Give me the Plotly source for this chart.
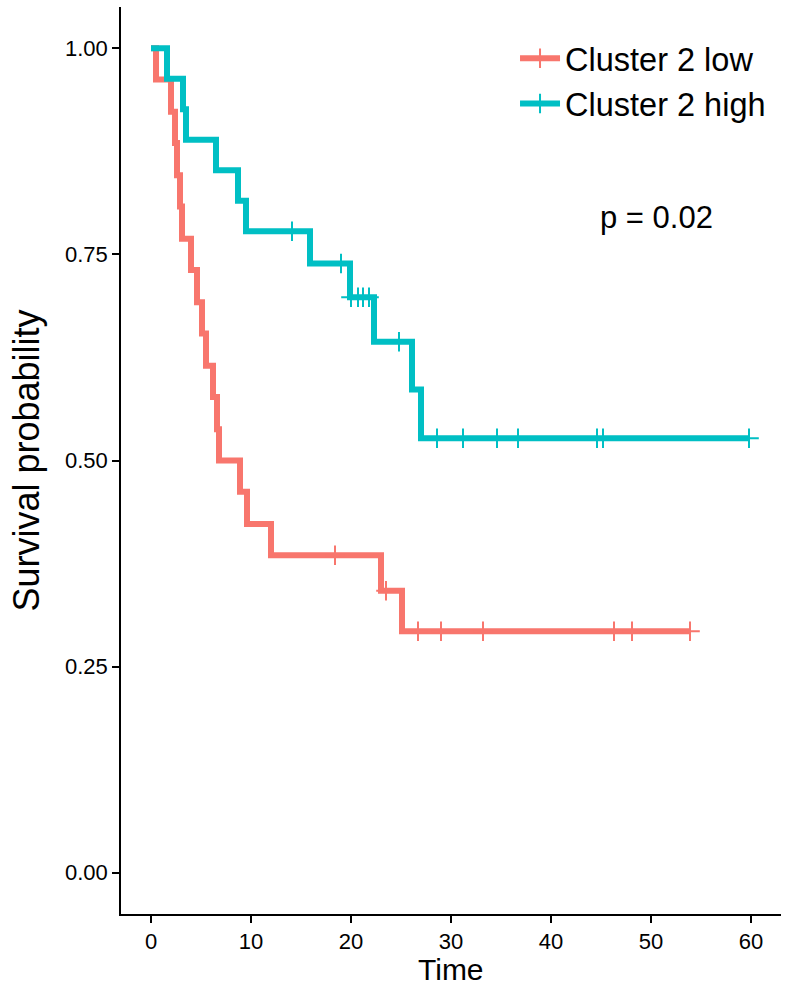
import plotly.graph_objects as go

# Kaplan-Meier step estimates read per group: time of each step and survival after it
low_times = [0, 0.5, 2.0, 2.4, 2.6, 2.9, 3.1, 4.0, 4.6, 5.1, 5.5, 6.2, 6.6, 6.8, 8.9, 9.6, 12.0, 23.0, 25.1]
low_surv = [1.0, 0.962, 0.923, 0.885, 0.846, 0.808, 0.769, 0.731, 0.692, 0.654, 0.615, 0.577,
            0.538, 0.500, 0.462, 0.423, 0.385, 0.342, 0.293]
low_censor = [18.4, 23.5, 26.7, 29.0, 33.2, 46.3, 48.1, 53.9]

high_times = [0, 1.6, 3.2, 3.5, 6.5, 8.7, 9.5, 15.9, 19.9, 22.3, 26.1, 27.0]
high_surv = [1.0, 0.963, 0.926, 0.889, 0.852, 0.815, 0.778, 0.739, 0.698, 0.644, 0.586, 0.527]
high_censor = [14.1, 19.0, 20.0, 20.7, 21.2, 21.8, 24.8, 28.6, 31.2, 34.6, 36.7, 44.6, 45.2, 59.8]

group_names = ["Cluster 2 low", "Cluster 2 high"]
group_colors = ["#F8766D", "#00BFC4"]
x_ticks = [0, 10, 20, 30, 40, 50, 60]
y_ticks = [0, 0.25, 0.5, 0.75, 1.0]
y_tick_text = ["0.00", "0.25", "0.50", "0.75", "1.00"]
p_label = "p = 0.02"
x_title = "Time"
y_title = "Survival probability"

FONT = "Liberation Sans, Arial, sans-serif"


def surv_at(t, times, surv):
    """Right-continuous step value of the survival curve at time t."""
    val = surv[0]
    for ti, si in zip(times, surv):
        if ti <= t:
            val = si
    return val


def curve_path(times, surv, censor):
    xs = sorted(set(times) | set(censor))
    ys = [surv_at(t, times, surv) for t in xs]
    return xs, ys


fig = go.Figure()
groups = [(low_times, low_surv, low_censor), (high_times, high_surv, high_censor)]
for (times, surv, censor), name, color in zip(groups, group_names, group_colors):
    xs, ys = curve_path(times, surv, censor)
    fig.add_trace(go.Scatter(
        x=xs, y=ys, mode="lines", line=dict(color=color, width=6, shape="hv"),
        showlegend=False, hoverinfo="skip"))
    fig.add_trace(go.Scatter(
        x=censor, y=[surv_at(t, times, surv) for t in censor], mode="markers",
        marker=dict(symbol="cross-thin", size=14, color=color,
                    line=dict(color=color, width=2)),
        showlegend=False, hoverinfo="skip"))
    # legend entry: thick line with a censor tick
    fig.add_trace(go.Scatter(
        x=[None], y=[None], mode="lines+markers", name=name,
        line=dict(color=color, width=6),
        marker=dict(symbol="line-ns", size=14, color=color,
                    line=dict(color=color, width=2))))

fig.add_annotation(x=50.5, y=0.795, xref="x", yref="y", text=p_label, showarrow=False,
                   font=dict(family=FONT, size=31, color="black"))
# x-axis title placed below the tick labels
fig.add_annotation(x=0.5, y=-0.0617, xref="paper", yref="paper", text=x_title,
                   showarrow=False, yanchor="middle", borderpad=0,
                   font=dict(family=FONT, size=30, color="black"))

axis_common = dict(showline=True, linecolor="black", linewidth=1.5, ticks="outside",
                   ticklen=7, tickwidth=1.5, tickcolor="black", showgrid=False,
                   zeroline=False, mirror=False,
                   tickfont=dict(family=FONT, size=22, color="black"))

fig.update_layout(
    width=787, height=989,
    margin=dict(l=121, r=6, t=7, b=75),
    paper_bgcolor="white", plot_bgcolor="white",
    font=dict(family=FONT, color="black"),
    xaxis=dict(range=[-3, 63], tickvals=x_ticks, **axis_common),
    yaxis=dict(range=[-0.05, 1.05], tickvals=y_ticks, ticktext=y_tick_text, **axis_common,
               title=dict(text=y_title, font=dict(family=FONT, size=36, color="black"),
                          standoff=14)),
    legend=dict(x=0.597, y=0.974, xanchor="left", yanchor="top", bgcolor="rgba(0,0,0,0)",
                font=dict(family=FONT, size=32.5, color="black"), itemwidth=40,
                tracegroupgap=0, borderwidth=0),
)

fig.write_html("out.html")
